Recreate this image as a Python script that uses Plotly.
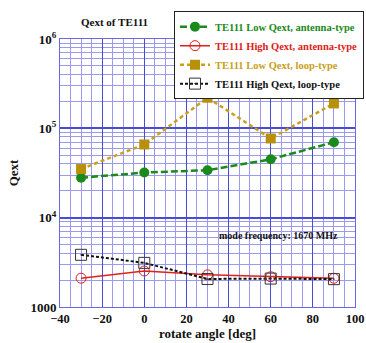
import plotly.graph_objects as go

angles = [-30, 0, 30, 60, 90]
low_antenna = [28000, 32000, 34000, 45000, 70000]
high_antenna = [2100, 2530, 2290, 2180, 2100]
low_loop = [35000, 66000, 220000, 77000, 190000]
high_loop = [3840, 3120, 2060, 2080, 2050]

x_ticks = [-40, -20, 0, 20, 40, 60, 80, 100]
y_tickvals = [1000, 10000, 100000, 1000000]
y_ticktext = ["1000", "10<sup>4</sup>", "10<sup>5</sup>", "10<sup>6</sup>"]

FONT = "Liberation Serif"

fig = go.Figure()
fig.add_trace(go.Scatter(
    x=angles, y=low_antenna, mode="lines+markers",
    name="<span style='color:#1a8a1a'>TE111 Low Qext, antenna-type</span>",
    line=dict(color="#1a8a1a", width=2.5, dash="7px,3px"),
    marker=dict(symbol="circle", size=10, color="#1a8a1a")))
fig.add_trace(go.Scatter(
    x=angles, y=high_antenna, mode="lines+markers",
    name="<span style='color:#e0201a'>TE111 High Qext, antenna-type</span>",
    line=dict(color="#e0201a", width=1.5),
    marker=dict(symbol="circle-open", size=10, color="#e0201a", line=dict(width=1))))
fig.add_trace(go.Scatter(
    x=angles, y=low_loop, mode="lines+markers",
    name="<span style='color:#c8a020'>TE111 Low Qext, loop-type</span>",
    line=dict(color="#c8a020", width=2.5, dash="4px,3px"),
    marker=dict(symbol="square", size=10, color="#b8900a")))
fig.add_trace(go.Scatter(
    x=angles, y=high_loop, mode="lines+markers",
    name="<span style='color:#111'>TE111 High Qext, loop-type</span>",
    line=dict(color="#111111", width=2, dash="3px,2px"),
    marker=dict(symbol="square-open-dot", size=11, color="#333333", line=dict(width=1))))

fig.add_annotation(text="mode frequency: 1670 MHz", xref="paper", yref="paper",
                   x=0.92, y=0.265, xanchor="right", yanchor="middle", showarrow=False,
                   font=dict(family=FONT, size=10, color="#111", weight="bold"))
fig.add_annotation(text="Qext of TE111", xref="paper", yref="paper",
                   x=0.18, y=1.063, xanchor="center", yanchor="middle", showarrow=False,
                   font=dict(family=FONT, size=11, color="#111", weight="bold"))

fig.update_layout(
    width=366, height=343,
    margin=dict(l=60, r=2, t=39, b=36, autoexpand=False),
    paper_bgcolor="white", plot_bgcolor="white",
    font=dict(family=FONT, size=13, color="#111", weight="bold"),
    showlegend=True,
    legend=dict(x=1.0, y=1.104, xanchor="right", yanchor="top",
                bgcolor="white", bordercolor="#222", borderwidth=1,
                font=dict(family=FONT, size=10.5, weight="bold"), tracegroupgap=0),
    xaxis=dict(domain=[0, 295 / 304], range=[-40, 100], tickvals=x_ticks,
               tickfont=dict(family=FONT, size=12.5, weight="bold"),
               ticklabeloverflow="allow",
               showgrid=True, gridcolor="#4a4ad8", gridwidth=1.2,
               minor=dict(dtick=5, showgrid=True, gridcolor="#9a9af0", gridwidth=1),
               showline=True, linecolor="#6a6ae0", mirror=True, zeroline=False,
               title=dict(text="rotate angle [deg]", font=dict(family=FONT, size=13, weight="bold"), standoff=2),
               ticks=""),
    yaxis=dict(type="log", range=[3, 6], tickvals=y_tickvals, ticktext=y_ticktext,
               tickfont=dict(family=FONT, size=13, weight="bold"),
               showgrid=True, gridcolor="#4a4ad8", gridwidth=1.5,
               minor=dict(showgrid=True, gridcolor="#9a9af0", gridwidth=1, dtick="D1"),
               showline=True, linecolor="#6a6ae0", mirror=True, zeroline=False,
               title=dict(text="Qext", font=dict(family=FONT, size=13, weight="bold"), standoff=8),
               ticks=""),
)

fig.write_html("out.html")
